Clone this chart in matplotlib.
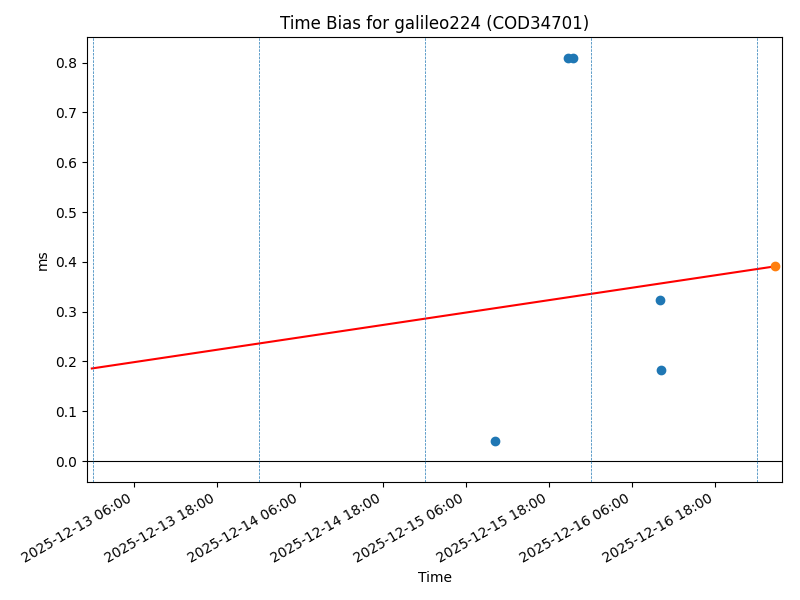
import matplotlib
matplotlib.use("Agg")
import matplotlib.pyplot as plt
import matplotlib.dates as mdates
import pandas as pd

# measured time bias points
obs_times = pd.to_datetime(["2025-12-15 10:09", "2025-12-15 20:44", "2025-12-15 21:27",
                            "2025-12-16 10:00", "2025-12-16 10:09"])
obs_ms = [0.040, 0.809, 0.809, 0.323, 0.183]

# predicted point
pred_time = pd.to_datetime(["2025-12-17 02:38"])
pred_ms = [0.391]

# trend line
trend_times = pd.to_datetime(["2025-12-12 23:50", "2025-12-17 02:38"])
trend_ms = [0.186, 0.391]

# day boundaries
midnights = pd.to_datetime(["2025-12-13", "2025-12-14", "2025-12-15", "2025-12-16", "2025-12-17"])

fig, ax = plt.subplots(figsize=(8, 6), dpi=100)

ax.scatter(obs_times, obs_ms, color="C0", zorder=3)
ax.plot(trend_times, trend_ms, color="red")
ax.scatter(pred_time, pred_ms, color="C1", zorder=3)
ax.axhline(0, color="black", linewidth=0.8)
for m in midnights:
    ax.axvline(m, color="C0", linestyle="--", linewidth=0.5)

ax.set_xlim(pd.Timestamp("2025-12-12 23:10"), pd.Timestamp("2025-12-17 03:38"))
ax.set_ylim(-0.0415, 0.851)
ax.xaxis.set_major_locator(mdates.HourLocator(byhour=[6, 18]))
ax.xaxis.set_major_formatter(mdates.DateFormatter("%Y-%m-%d %H:%M"))

ax.set_title("Time Bias for galileo224 (COD34701)")
ax.set_xlabel("Time")
ax.set_ylabel("ms")
fig.autofmt_xdate()
fig.subplots_adjust(left=0.109, right=0.9775, top=0.938, bottom=0.197)

plt.savefig("out.png")
